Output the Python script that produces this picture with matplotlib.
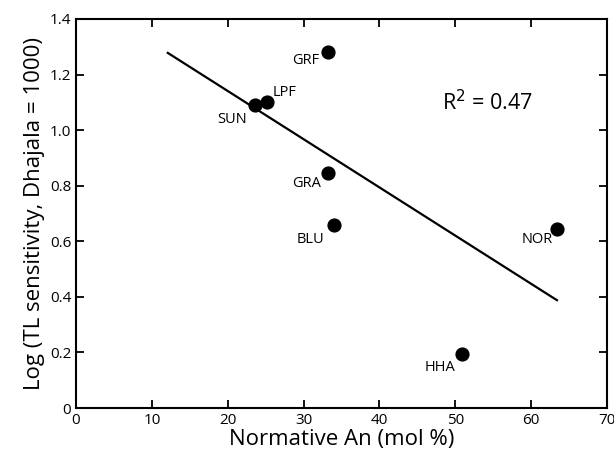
import matplotlib.pyplot as plt

plt.rcParams['font.family'] = ['Open Sans', 'DejaVu Sans']

# sample data
samples = ['GRF', 'LPF', 'SUN', 'GRA', 'BLU', 'NOR', 'HHA']
an_mol = [33.2, 25.2, 23.6, 33.2, 34.0, 63.4, 50.9]
log_tl = [1.28, 1.10, 1.09, 0.847, 0.657, 0.643, 0.194]

# regression line end points
fit_x = [12.1, 63.4]
fit_y = [1.278, 0.388]

# label offsets in points (dx, dy) and alignment
LABEL_POS = {'GRF': (-6, -6, 'right'),
             'LPF': (4, 7, 'left'),
             'SUN': (-6, -10, 'right'),
             'GRA': (-5, -8, 'right'),
             'BLU': (-7, -10, 'right'),
             'NOR': (-3, -7, 'right'),
             'HHA': (-5, -10, 'right')}

fig = plt.figure(figsize=(6.14, 4.62), dpi=100)
ax = fig.add_axes([76 / 614, 54 / 462, 531 / 614, 389 / 462])

ax.plot(fit_x, fit_y, color='black', linewidth=1.6)
ax.scatter(an_mol, log_tl, s=85, color='black', zorder=3)

for name, x, y in zip(samples, an_mol, log_tl):
    dx, dy, ha = LABEL_POS[name]
    ax.annotate(name, (x, y), xytext=(dx, dy), textcoords='offset points',
                ha=ha, va='center', fontsize=10.5)

ax.text(0.69, 0.785, 'R$^2$ = 0.47', transform=ax.transAxes, fontsize=15.5,
        va='center')

ax.set_xlim(0, 70)
ax.set_ylim(0, 1.4)
ax.set_xticks(range(0, 71, 10))
ax.set_yticks([0, 0.2, 0.4, 0.6, 0.8, 1.0, 1.2, 1.4])
ax.set_yticklabels(['0', '0.2', '0.4', '0.6', '0.8', '1.0', '1.2', '1.4'])
ax.tick_params(direction='in', length=6, width=1.3, top=True, right=True,
               labelsize=11)
for s in ax.spines.values():
    s.set_linewidth(1.5)

ax.set_xlabel('Normative An (mol %)', fontsize=16, labelpad=1)
ax.set_ylabel('Log (TL sensitivity, Dhajala = 1000)', fontsize=16, labelpad=3)

fig.savefig('out.png', dpi=100)
